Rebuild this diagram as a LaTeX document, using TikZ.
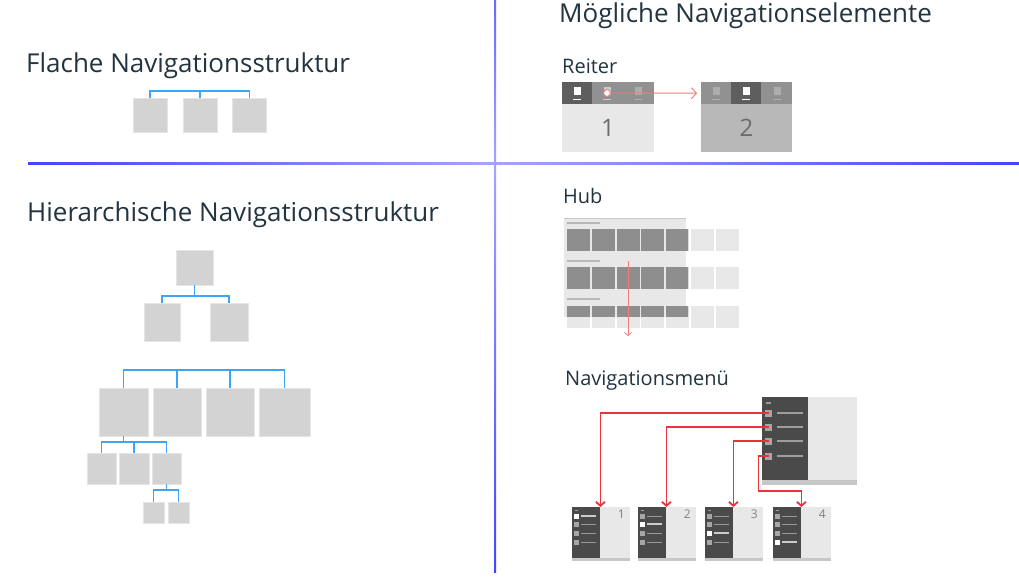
\documentclass[tikz,border=0pt]{standalone}
\usepackage{fontspec}
\setmainfont{Open Sans}
\usepackage{xcolor}
\usetikzlibrary{arrows.meta,positioning}

\definecolor{txt}{HTML}{22343F}
\definecolor{boxgray}{HTML}{D3D3D3}
\definecolor{linkblue}{HTML}{3EA4F4}
\definecolor{sepdark}{HTML}{4444FF}
\definecolor{seplight}{HTML}{A4A4FF}
\definecolor{menured}{HTML}{E8333A}
\definecolor{lightred}{HTML}{F07C7C}
\definecolor{panelgray}{HTML}{E8E8E8}
\definecolor{tiledark}{HTML}{8E8E8E}
\definecolor{menudark}{HTML}{4A4A4A}

\tikzset{
  title/.style={font=\fontsize{26}{31}\selectfont, text=txt, inner sep=0pt, anchor=base west},
  label/.style={font=\fontsize{20}{24}\selectfont, text=txt, inner sep=0pt, anchor=base west},
  page/.style={fill=boxgray, draw=boxgray!60, line width=0.5pt, inner sep=0pt, outer sep=0pt},
  link/.style={draw=linkblue, line width=1.6pt},
  navarrow/.style={draw=menured, line width=1.8pt, -{Straight Barb[length=4pt,width=9pt]}},
  taparrow/.style={draw=lightred, line width=0.9pt, -{Straight Barb[length=5pt,width=11pt]}}
}

\begin{document}
\begin{tikzpicture}[x=1pt, y=-1pt]
    \useasboundingbox (0,0) rectangle (1019,581);
    \fill[white] (0,0) rectangle (1019,581);

    % Separator lines
    \shade[left color=sepdark, right color=seplight] (28,162) rectangle (494,164.2);
    \shade[left color=seplight, right color=sepdark] (494,162) rectangle (1019,164.2);
    \shade[top color=sepdark!80, bottom color=seplight] (494,0) rectangle (496,163);
    \shade[top color=seplight, bottom color=sepdark] (494,163) rectangle (496,572);

    % Titles
    \node[title] (flat) at (26,72) {Flache Navigationsstruktur};
    \node[title] (hier) at (27,221) {Hierarchische Navigationsstruktur};
    \node[title] (elem) at (559,22) {Mögliche Navigationselemente};

    % Flat structure
    \node[page, minimum width=34pt, minimum height=34pt] (f1) at (150,115) {};
    \node[page, minimum width=34pt, minimum height=34pt] (f2) at (200,115) {};
    \node[page, minimum width=34pt, minimum height=34pt] (f3) at (249.5,115) {};
    \draw[link] (f1.north) -- ++(0,-7) -| (f3.north);
    \draw[link] (f2.north) -- ++(0,-7);

    % Hierarchical structure
    \node[page, minimum width=37pt, minimum height=35pt] (r) at (194.5,267.5) {};
    \node[page, minimum width=36pt, minimum height=38pt] (a1) at (162,322) {};
    \node[page, minimum width=38pt, minimum height=38pt] (a2) at (229,322) {};
    \draw[link] (r.south) -- ++(0,11) -| (a1.north);
    \draw[link] (r.south) -- ++(0,11) -| (a2.north);

    \node[page, minimum width=49pt, minimum height=48pt] (b1) at (123.5,412) {};
    \node[page, minimum width=48pt, minimum height=48pt] (b2) at (177,412) {};
    \node[page, minimum width=48pt, minimum height=48pt] (b3) at (230,412) {};
    \node[page, minimum width=51pt, minimum height=48pt] (b4) at (284.5,412) {};
    \draw[link] (b1.north) -- ++(0,-18) -| (b4.north);
    \draw[link] (b2.north) -- ++(0,-18);
    \draw[link] (b3.north) -- ++(0,-18);

    \node[page, minimum width=29pt, minimum height=31pt] (c1) at (101.5,468.5) {};
    \node[page, minimum width=30pt, minimum height=31pt] (c2) at (134,468.5) {};
    \node[page, minimum width=29pt, minimum height=31pt] (c3) at (166.5,468.5) {};
    \draw[link] (b1.south) -- ++(0,6) -| (c1.north);
    \draw[link] (b1.south) -- ++(0,6) -| (c2.north);
    \draw[link] (b1.south) -- ++(0,6) -| (c3.north);

    \node[page, minimum width=21pt, minimum height=21pt] (d1) at (153.5,512.5) {};
    \node[page, minimum width=21pt, minimum height=21pt] (d2) at (178.5,512.5) {};
    \draw[link] (c3.south) -- ++(0,6) -| (d1.north);
    \draw[link] (c3.south) -- ++(0,6) -| (d2.north);

    % Reiter (tabs)
    \node[label] (reiter) at (562,73) {Reiter};
    \fill[panelgray] (562,104) rectangle (654,152);
    \fill[black!43] (562,82) rectangle (654,104);
    \fill[black!63] (562,82) rectangle (592,104);
    \node[font=\fontsize{24}{28}\selectfont, text=black!58] (one) at (608,128) {1};
    \fill[white] (573.5,87) rectangle (580.5,95);
    \fill[white] (573,98.5) rectangle (581,99.5);
    \fill[black!20] (603.5,87) rectangle (610.5,95);
    \fill[black!20] (603,98.5) rectangle (611,99.5);
    \fill[black!32] (634.5,87) rectangle (641.5,95);
    \fill[black!32] (634,98.5) rectangle (642,99.5);

    \fill[black!28] (701,104) rectangle (792,152);
    \node[fill=black!43, minimum width=91pt, minimum height=22pt, inner sep=0pt, anchor=north west] (tab2) at (701,82) {};
    \fill[black!63] (731,82) rectangle (761,104);
    \node[font=\fontsize{24}{28}\selectfont, text=black!58] (two) at (746.5,128) {2};
    \fill[black!32] (712.5,87) rectangle (719.5,95);
    \fill[black!32] (712,98.5) rectangle (720,99.5);
    \fill[white] (742.5,87) rectangle (749.5,95);
    \fill[white] (742,98.5) rectangle (750,99.5);
    \fill[black!32] (773.5,87) rectangle (780.5,95);
    \fill[black!32] (773,98.5) rectangle (781,99.5);

    \node[circle, draw=lightred, fill=white, line width=1pt, minimum size=7pt, inner sep=0pt] (tap) at (607,93) {};
    \draw[taparrow, shorten >=4pt] (tap.east) -- (tab2.west);

    % Hub
    \node[label] (hub) at (563,203) {Hub};
    \foreach \row in {229,267,306}
      \foreach \col in {567,592,617,641,666,691,716}
        \fill[panelgray] (\col,\row) rectangle ++(23,22);
    \fill[panelgray] (564,218) rectangle (686,317);
    \draw[black!22, line width=1pt] (564,218) -- (686,218);
    \foreach \row in {223,261,299}
      \draw[black!28, line width=1.4pt] (567,\row) -- (600,\row);
    \begin{scope}
      \clip (564,218) rectangle (688,316.5);
      \foreach \row in {229,267,306}
        \foreach \col in {567,592,617,641,666}
          \fill[tiledark] (\col,\row) rectangle ++(22.5,22);
    \end{scope}
    \coordinate (hubtop) at (628,261);
    \coordinate (hubend) at (628,336);
    \draw[draw=lightred, line width=0.8pt, -{Straight Barb[length=3pt,width=7pt]}] (hubtop) -- (hubend);

    % Navigationsmenue
    \node[label] (menu) at (565,385) {Navigationsmenü};
    \fill[panelgray] (808,397) rectangle (857,480);
    \fill[menudark] (762,397) rectangle (808,480);
    \fill[black!22] (762,480) rectangle (857,485);
    \draw[black!40, line width=1.2pt] (766,403) -- (771,403);
    \foreach \y [count=\i] in {413,427,441,456} {
      \node[fill=black!35, minimum size=7pt, inner sep=0pt] (m\i) at (768.5,\y) {};
      \draw[black!38, line width=1.4pt] (777,\y) -- (803,\y);
    }

    % Cards
    \foreach \x [count=\i] in {572,638,705,773} {
      \fill[panelgray] (\x,507) rectangle ++(58,51);
      \fill[black!22] (\x,558) rectangle ++(58,3);
      \node[fill=menudark, minimum width=28pt, minimum height=51pt, inner sep=0pt, anchor=north west] (k\i) at (\x,507) {};
      \node[font=\fontsize{12}{14}\selectfont, text=black!50, anchor=north east, inner sep=0pt] (n\i) at (\x+53,510) {\i};
      \draw[black!40, line width=1pt] (\x+3,510) -- (\x+6,510);
      \foreach \y [count=\j] in {516,524,533,542} {
        \ifnum\i=\j
          \fill[white] (\x+2,\y-2.5) rectangle ++(5,5);
          \draw[black!20, line width=1.6pt] (\x+9,\y) -- (\x+24,\y);
        \else
          \fill[black!35] (\x+2,\y-2.5) rectangle ++(5,5);
          \draw[black!40, line width=1pt] (\x+9,\y) -- (\x+24,\y);
        \fi
      }
    }

    % Menu arrows
    \draw[navarrow] (m1.center) -| (k1.north east);
    \draw[navarrow] (m2.center) -| (k2.north east);
    \draw[navarrow] (m3.center) -| (k3.north east);
    \draw[navarrow] (m4.center) -| ++(-10,35) -| (k4.north east);
\end{tikzpicture}
\end{document}
